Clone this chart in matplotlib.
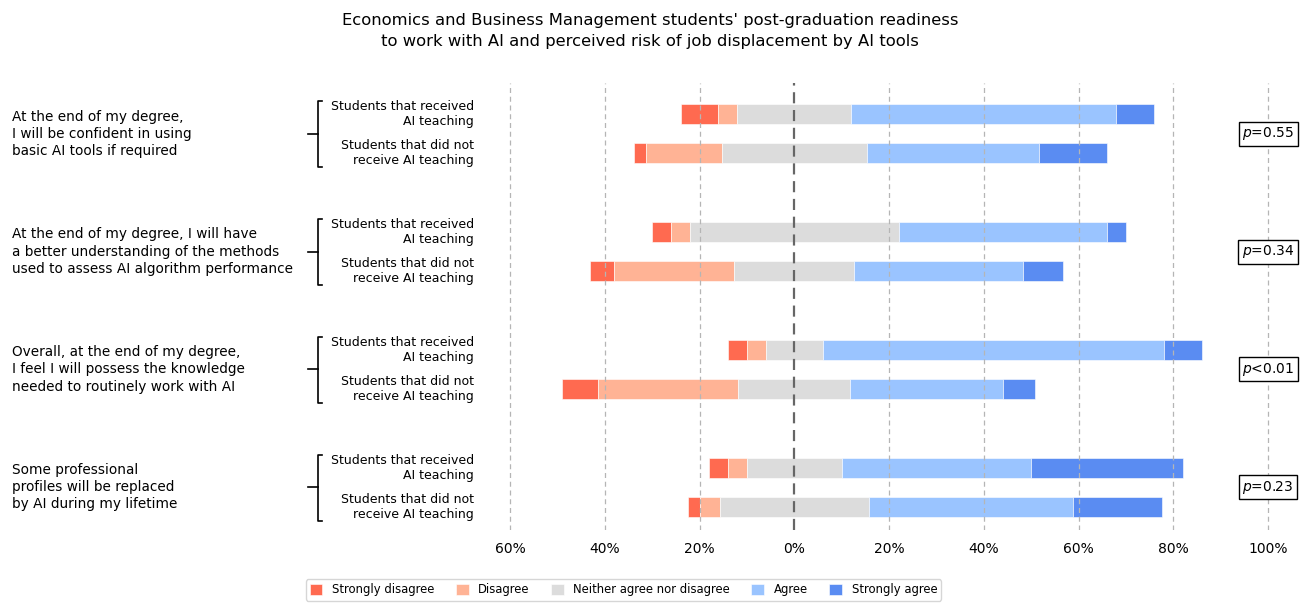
import matplotlib
matplotlib.use("Agg")
import matplotlib.pyplot as plt
import matplotlib.transforms as mtransforms
import numpy as np

levels = ["Strongly disagree", "Disagree", "Neither agree nor disagree", "Agree", "Strongly agree"]
colours = ["#ff6a50", "#ffb395", "#dcdcdc", "#9ac4ff", "#5a8cf2"]

questions = [
    "At the end of my degree,\nI will be confident in using\nbasic AI tools if required",
    "At the end of my degree, I will have\na better understanding of the methods\nused to assess AI algorithm performance",
    "Overall, at the end of my degree,\nI feel I will possess the knowledge\nneeded to routinely work with AI",
    "Some professional\nprofiles will be replaced\nby AI during my lifetime",
]
groups = ["Students that received\nAI teaching", "Students that did not\nreceive AI teaching"]
p_values = ["$p$=0.55", "$p$=0.34", "$p$<0.01", "$p$=0.23"]

# % of answers per level (SD, D, N, A, SA)
with_ai = [
    [8, 4, 24, 56, 8],
    [4, 4, 44, 44, 4],
    [4, 4, 12, 72, 8],
    [4, 4, 20, 40, 32],
]
without_ai = [
    [2.5, 16.1, 30.6, 36.4, 14.3],
    [5.1, 25.4, 25.4, 35.6, 8.5],
    [7.6, 29.6, 23.7, 32.2, 6.8],
    [2.5, 4.3, 31.4, 43.2, 18.7],
]

fig = plt.figure(figsize=(13.11, 6.03), dpi=100)
ax = fig.add_axes([0.3818, 0.1211, 0.5927, 0.7413])

bar_h = 0.5
for qi in range(len(questions)):
    for gi, data in enumerate([with_ai, without_ai]):
        vals = np.array(data[qi], dtype=float)
        y = qi * 3 + gi
        start = -(vals[0] + vals[1] + vals[2] / 2)
        for li, v in enumerate(vals):
            ax.barh(y, v, left=start, height=bar_h, color=colours[li],
                    edgecolor="white", linewidth=0.4,
                    label=levels[li] if qi == 0 and gi == 0 else None, zorder=2)
            start += v

for x in [-60, -40, -20, 20, 40, 60, 80, 100]:
    ax.axvline(x, color="#b5b5b5", linestyle=(0, (4, 3)), linewidth=0.9, zorder=3)
ax.axvline(0, color="#666666", linestyle=(0, (5, 3)), linewidth=1.6, zorder=4)

ax.set_xlim(-62, 102)
ax.set_ylim(10.585, -0.79)
ticks = [-60, -40, -20, 0, 20, 40, 60, 80, 100]
ax.set_xticks(ticks)
ax.set_xticklabels([f"{abs(t)}%" for t in ticks], fontsize=10)
ax.tick_params(axis="x", length=0, pad=9)
ax.set_yticks([])
for s in ax.spines.values():
    s.set_visible(False)

# x in figure fraction, y in data units
trans = mtransforms.blended_transform_factory(fig.transFigure, ax.transData)
bx = 318 / 1311
for qi, q in enumerate(questions):
    y0 = qi * 3
    yc = y0 + 0.5
    ax.text(0.0092, yc, q, transform=trans, ha="left", va="center",
            fontsize=9.8, linespacing=1.28)
    ax.text(0.3616, y0, groups[0], transform=trans, ha="right", va="center",
            multialignment="right", fontsize=9)
    ax.text(0.3616, y0 + 1, groups[1], transform=trans, ha="right", va="center",
            multialignment="right", fontsize=9)
    # bracket joining the two groups
    ax.plot([bx + 4 / 1311, bx, bx, bx + 4 / 1311],
            [y0 - 0.32, y0 - 0.32, y0 + 1.35, y0 + 1.35],
            transform=trans, color="black", linewidth=1.2, clip_on=False)
    ax.plot([bx - 10 / 1311, bx], [yc, yc], transform=trans, color="black",
            linewidth=1.2, clip_on=False)
    ax.text(100, yc, p_values[qi], ha="center", va="center", fontsize=10, zorder=5,
            bbox=dict(boxstyle="square,pad=0.25", facecolor="white",
                      edgecolor="black", linewidth=1))

fig.suptitle("Economics and Business Management students' post-graduation readiness\n"
             "to work with AI and perceived risk of job displacement by AI tools",
             x=0.496, y=0.978, fontsize=11.75, va="top", linespacing=1.45)

fig.legend(loc="center", bbox_to_anchor=(0.4755, 0.0216), ncol=5, fontsize=8.4,
           frameon=True, edgecolor="#cccccc", handlelength=1.1, handleheight=1.1,
           handletextpad=0.8, columnspacing=1.85, borderpad=0.35)

fig.savefig("out.png", dpi=100)
